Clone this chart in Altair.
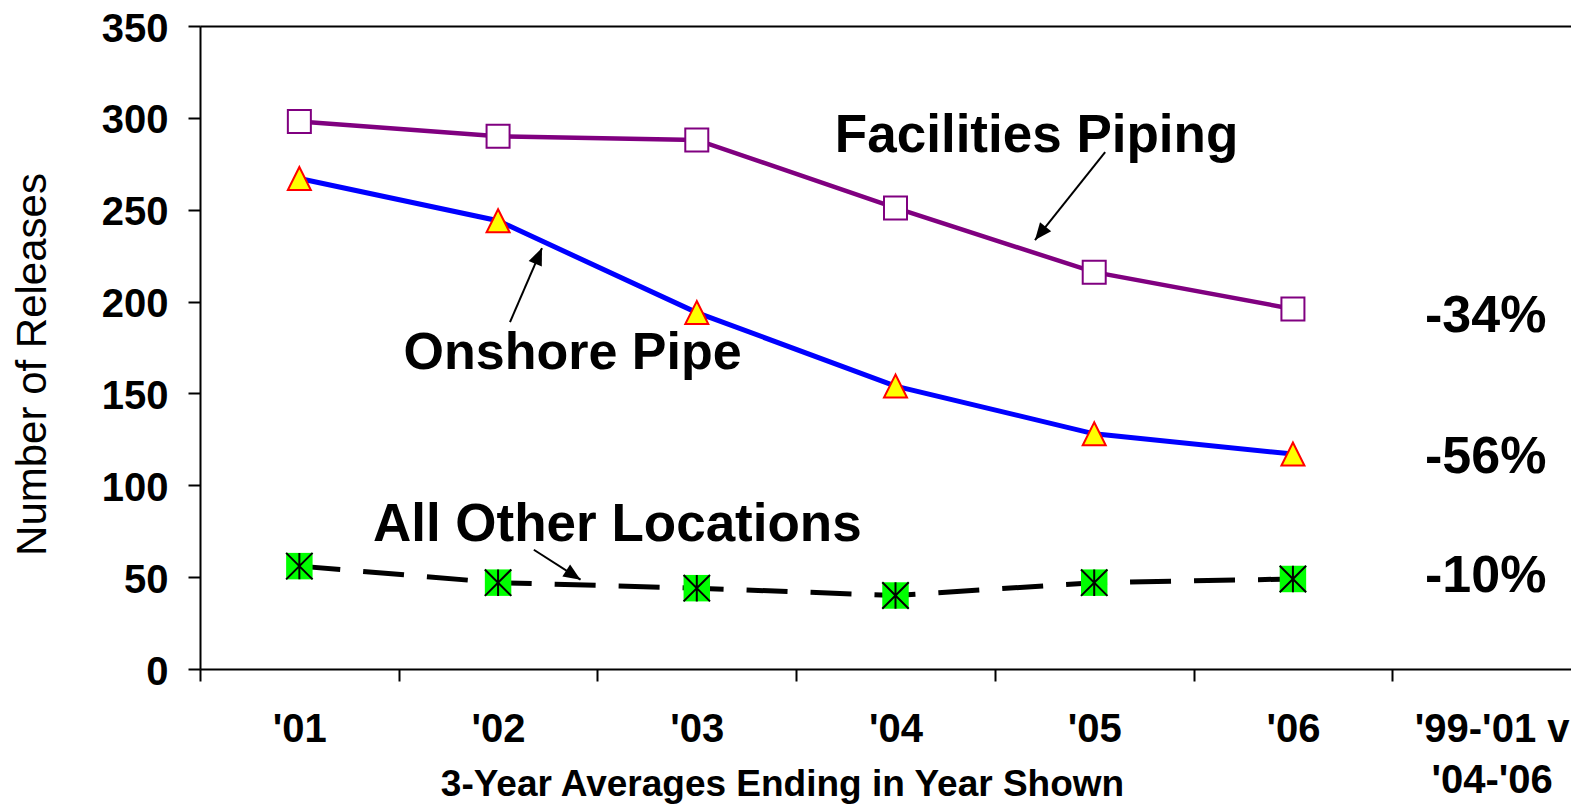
import math
import altair as alt
import pandas as pd

# ---- data ----
categories = ["'01", "'02", "'03", "'04", "'05", "'06", "'99-'01 v|'04-'06"]
years = ["'01", "'02", "'03", "'04", "'05", "'06"]
facilities_piping = [298, 290, 288, 251, 216, 196]
onshore_pipe = [267, 244, 194, 154, 128, 117]
all_other = [56, 47, 44, 40, 47, 49]

# annotation texts (x in category-band units, y in data units, baseline)
label_text = ["Facilities Piping", "Onshore Pipe", "All Other Locations", "-34%", "-56%", "-10%"]
label_u = [4.21, 1.875, 2.10, 6.47, 6.47, 6.47]
label_v = [281.4, 163.3, 69.7, 183.5, 106.7, 41.9]
label_size = [53, 52, 53, 52, 52, 52]

# arrows (start -> tip)
arrow_u0 = [4.555, 1.560, 1.680]
arrow_v0 = [281.4, 188.8, 64.9]
arrow_u1 = [4.202, 1.721, 1.915]
arrow_v1 = [233.5, 229.1, 48.6]

FONT = "Liberation Sans"
W, H = 1371, 643
BAND_RANGE = 1391          # 7 bands of ~198.7 px; the last one runs past the picture edge
PX_U = BAND_RANGE / 7.0
PX_V = H / 350.0

df = pd.DataFrame({"cat": years, "fac": facilities_piping, "ons": onshore_pipe, "oth": all_other})

xaxis = alt.Axis(
    tickBand="extent", labelExpr="split(datum.label, '|')", labelAngle=0,
    labelFont=FONT, labelFontSize=40, labelFontWeight="bold", labelColor="black",
    labelPadding=28, labelLineHeight=51, labelOverlap=False, labelFlush=False, labelBound=False,
    tickSize=12, tickWidth=2, tickColor="black", domainWidth=2, domainColor="black", grid=False,
    title="3-Year Averages Ending in Year Shown", titleFont=FONT, titleFontSize=37,
    titleFontWeight="bold", titleColor="black", titleX=582, titleY=126,
    titleAlign="center", titleBaseline="alphabetic", titleAnchor="start",
)
yaxis = alt.Axis(
    values=[0, 50, 100, 150, 200, 250, 300, 350],
    labelFont=FONT, labelFontSize=40, labelFontWeight="bold", labelColor="black", labelPadding=20,
    labelOffset=3,
    tickSize=12, tickWidth=2, tickColor="black", domainWidth=2, domainColor="black", grid=False,
    title="Number of Releases", titleFont=FONT, titleFontSize=42, titleFontWeight="normal",
    titleColor="black", titleX=-168, titleY=338, titleAngle=270, titleAlign="center",
    titleBaseline="middle", titleAnchor="start",
)
xs = alt.Scale(type="band", domain=categories, range=[0, BAND_RANGE], paddingInner=0, paddingOuter=0)
ys = alt.Scale(domain=[0, 350], nice=False, zero=True)

X = alt.X("cat:N", scale=xs, axis=xaxis, sort=categories)


def Y(field):
    return alt.Y(f"{field}:Q", scale=ys, axis=yaxis)


base = alt.Chart(df)
fac_line = base.mark_line(color="#800080", strokeWidth=4.5).encode(x=X, y=Y("fac"))
ons_line = base.mark_line(color="#0000FF", strokeWidth=5).encode(x=X, y=Y("ons"))
oth_line = base.mark_line(color="black", strokeWidth=5, strokeDash=[41, 23]).encode(x=X, y=Y("oth"))

fac_pts = base.mark_point(shape="square", size=529, filled=True, fill="white", stroke="#800080",
                          strokeWidth=2, opacity=1).encode(x=X, y=Y("fac"))
ons_pts = base.mark_point(shape="M0,-1L-1,1L1,1Z", size=529, filled=True, fill="#FFFF00",
                          stroke="#FF0000", strokeWidth=2, opacity=1).encode(x=X, y=Y("ons"))
oth_sq = base.mark_point(shape="square", size=700, filled=True, fill="#00FF00", strokeWidth=0,
                         opacity=1).encode(x=X, y=Y("oth"))
oth_star = base.mark_point(shape="M-1,-1L1,1M1,-1L-1,1M0,-1L0,1", size=700, filled=False,
                           stroke="black", strokeWidth=2, opacity=1).encode(x=X, y=Y("oth"))

data_layer = alt.layer(fac_line, ons_line, oth_line, fac_pts, ons_pts, oth_sq, oth_star)

# ---- annotations on a linear band-unit scale ----
ann_df = pd.DataFrame({"text": label_text, "u": label_u, "v": label_v, "fs": label_size})
angles = []
for a, b, c, d in zip(arrow_u0, arrow_v0, arrow_u1, arrow_v1):
    dx = (c - a) * PX_U
    dy = -(d - b) * PX_V
    angles.append(math.degrees(math.atan2(dx, -dy)) % 360)
arr_df = pd.DataFrame({"u0": arrow_u0, "v0": arrow_v0, "u1": arrow_u1, "v1": arrow_v1, "ang": angles})

topaxis = alt.Axis(orient="top", labels=False, ticks=False, domain=True, domainWidth=2,
                   domainColor="black", grid=False, title=None)
us = alt.Scale(domain=[0, 7], range=[0, BAND_RANGE], nice=False, zero=False)

txt = alt.Chart(ann_df).mark_text(font=FONT, fontWeight="bold", color="black",
                                  align="center", baseline="alphabetic").encode(
    x=alt.X("u:Q", scale=us, axis=topaxis), y=alt.Y("v:Q", scale=ys, axis=yaxis), text="text:N",
    size=alt.Size("fs:Q", scale=None))
rule = alt.Chart(arr_df).mark_rule(color="black", strokeWidth=2).encode(
    x=alt.X("u0:Q", scale=us, axis=topaxis), y=alt.Y("v0:Q", scale=ys, axis=yaxis),
    x2="u1:Q", y2="v1:Q")
head = alt.Chart(arr_df).mark_point(shape="M0,0L-0.42,1L0.42,1Z", size=1156, filled=True,
                                    fill="black", strokeWidth=0, opacity=1).encode(
    x=alt.X("u1:Q", scale=us, axis=topaxis), y=alt.Y("v1:Q", scale=ys, axis=yaxis),
    angle=alt.Angle("ang:Q", scale=None))

ann_layer = alt.layer(txt, rule, head)

chart = alt.layer(data_layer, ann_layer).resolve_scale(x="independent").properties(
    width=W, height=H,
    autosize=alt.AutoSizeParams(type="none"),
    padding={"left": 192, "top": 18, "right": 0, "bottom": 135},
).configure_view(stroke=None).configure(font=FONT, background="white")

chart.save("out.html", embed_options={"renderer": "svg", "actions": False})
